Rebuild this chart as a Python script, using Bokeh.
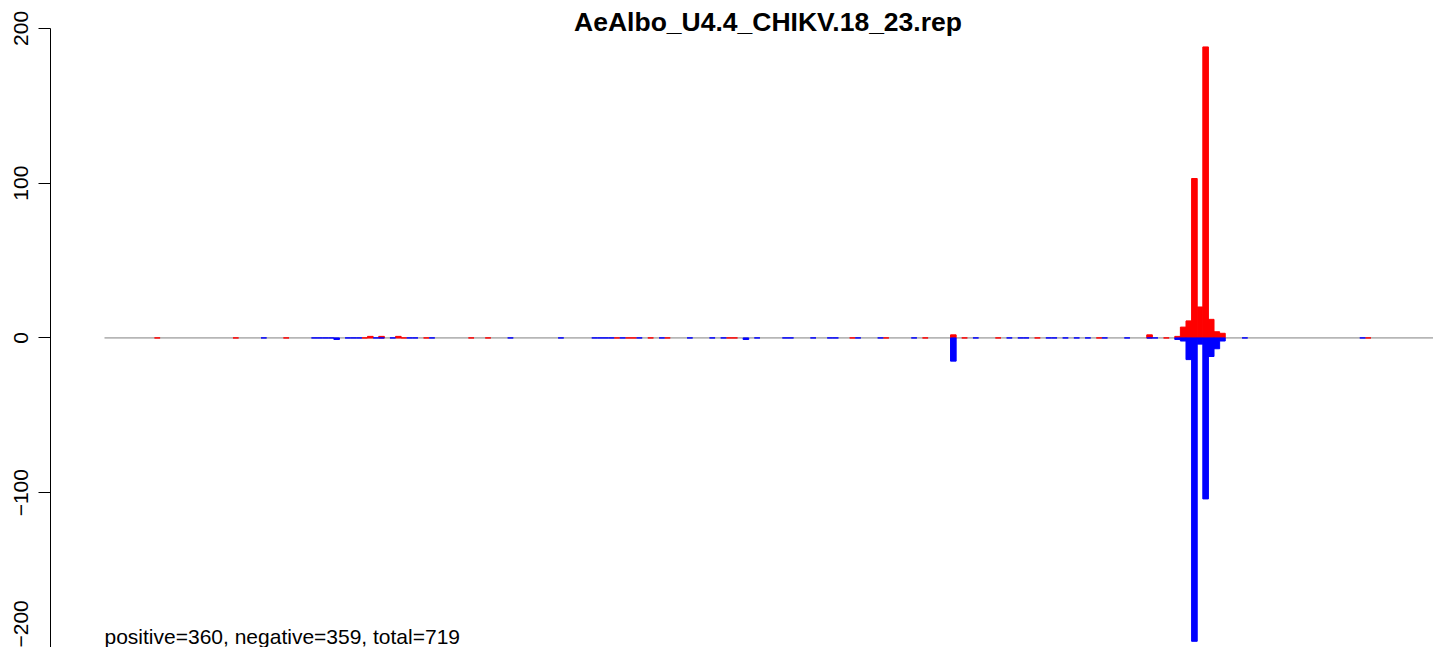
from bokeh.plotting import figure
from bokeh.models import Range1d, FixedTicker, Label, ColumnDataSource
from bokeh.embed import file_html
from bokeh.resources import INLINE

title_text = "AeAlbo_U4.4_CHIKV.18_23.rep"
summary_text = "positive=360, negative=359, total=719"

# positive strand (red)
pos_x = [0, 14, 23, 37, 38, 40, 43, 44, 48, 56,
         59, 82, 84, 85, 88, 91, 102, 103, 124, 130,
         137, 142, 144, 150, 157, 168, 177, 180, 182, 183,
         184, 185, 186, 187, 188, 189, 190, 216]
pos_y = [0, 0, 0, 0, 1, 1, 1, 0, 0, 0,
         0, 0, 0, 0, 0, 0, 0, 0, 0, 0,
         0, 2, 0, 0, 0, 0, 2, 0, 1, 7,
         11, 103, 20, 188, 12, 4, 3, 0]

# negative strand (blue)
neg_x = [19, 28, 29, 30, 31, 32, 34, 35, 36, 39,
         40, 42, 45, 46, 49, 63, 72, 78, 79, 80,
         81, 83, 86, 90, 95, 99, 101, 105, 107, 112,
         113, 117, 120, 121, 125, 129, 135, 142, 146, 152,
         154, 155, 159, 160, 162, 164, 166, 169, 173, 177,
         178, 182, 183, 184, 185, 186, 187, 188, 189, 190,
         194, 215]
neg_y = [0, 0, 0, 0, 0, -1, 0, 0, 0, 0,
         0, 0, 0, 0, 0, 0, 0, 0, 0, 0,
         0, 0, 0, 0, 0, 0, 0, -1, 0, 0,
         0, 0, 0, 0, 0, 0, 0, -15, 0, 0,
         0, 0, 0, 0, 0, 0, 0, 0, 0, 0,
         0, -1, -2, -14, -196, -4, -104, -12, -7, -2,
         0, 0]

y_ticks = [-200, -100, 0, 100, 200]
baseline_x = [-9.42, 240]

FONT = "Liberation Sans"

p = figure(width=1433, height=647, output_backend="svg", toolbar_location=None,
           x_range=Range1d(-19.05, 227.65), y_range=Range1d(-200, 218.0),
           min_border_left=50, min_border_right=0, min_border_top=0, min_border_bottom=0,
           x_axis_location=None)
p.outline_line_color = None
p.xgrid.visible = False
p.ygrid.visible = False
p.background_fill_color = "white"
p.border_fill_color = "white"

# zero baseline
p.line(baseline_x, [0, 0], line_color="#808080", line_width=1)

p.vbar(x="x", top="y", bottom=0, width=1,
       source=ColumnDataSource(dict(x=pos_x, y=pos_y)),
       fill_color="#ff0000", line_color="#ff0000", line_width=1)
p.vbar(x="x", top=0, bottom="y", width=1,
       source=ColumnDataSource(dict(x=neg_x, y=neg_y)),
       fill_color="#0000ff", line_color="#0000ff", line_width=1)

ax = p.yaxis[0]
ax.ticker = FixedTicker(ticks=y_ticks)
ax.bounds = (-200, 200)
ax.minor_tick_line_color = None
ax.major_tick_in = 0
ax.major_tick_out = 12
ax.major_label_standoff = 10
ax.major_label_orientation = "vertical"
ax.major_label_text_font = FONT
ax.major_label_text_font_size = "21px"
ax.major_label_text_color = "black"
ax.axis_line_color = "black"
ax.major_tick_line_color = "black"
ax.major_label_overrides = {t: (str(t).replace("-", "\u2212")) for t in y_ticks}

p.add_layout(Label(x=108.94, y=204.4, text=title_text, text_align="center",
                   text_baseline="alphabetic", text_font=FONT, text_font_style="bold",
                   text_font_size="26.5px", text_color="black"))
p.add_layout(Label(x=-9.42, y=-193.0, text=summary_text, text_align="left",
                   text_baseline="alphabetic", text_font=FONT,
                   text_font_size="21px", text_color="black"))

open("out.html", "w").write(file_html(p, INLINE))
